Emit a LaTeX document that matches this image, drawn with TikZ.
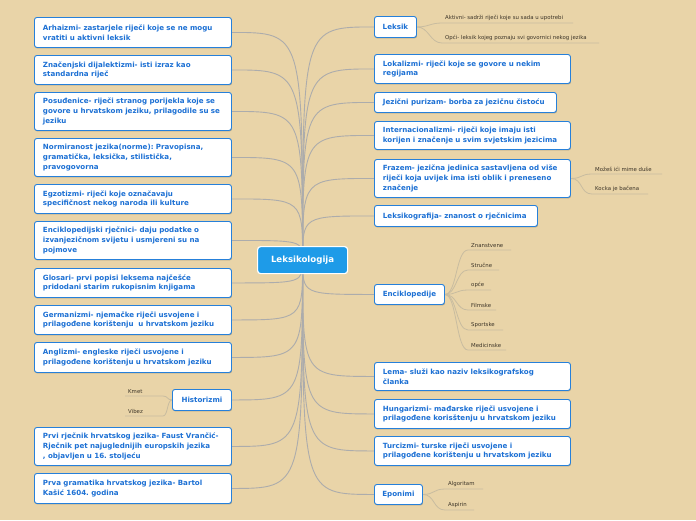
\documentclass[tikz,border=0pt]{standalone}
\usepackage{fontspec}
\setmainfont{DejaVu Sans}
\usetikzlibrary{calc,shadows}
\frenchspacing
\definecolor{bgc}{RGB}{233,212,168}
\definecolor{boxblue}{RGB}{38,128,218}
\definecolor{txtblue}{RGB}{28,112,212}
\definecolor{rootblue}{RGB}{30,155,232}
\definecolor{conngray}{RGB}{172,172,172}
\definecolor{subline}{RGB}{200,188,160}
\definecolor{subtxt}{RGB}{60,52,40}
\pgfdeclarelayer{bgfill}
\pgfdeclarelayer{lines}
\pgfsetlayers{bgfill,lines,main}
\tikzset{
  box/.style={draw=boxblue, line width=0.9pt, fill=white, rounded corners=2.5pt,
    text=txtblue, font=\fontsize{7.1}{9.9}\selectfont\bfseries\frenchspacing, align=left,
    inner xsep=8.5pt, inner ysep=2pt, anchor=north west,
    drop shadow={shadow xshift=0.5pt, shadow yshift=-1pt, opacity=0.35, fill=black!70}},
  wbox/.style={box, text width=#1},
  sbox/.style={box, align=center, inner xsep=2pt},
  rootbox/.style={draw=white, line width=1.2pt, fill=rootblue, rounded corners=3pt,
    text=white, font=\fontsize{8.6}{10}\selectfont\bfseries, anchor=north west,
    minimum width=90pt, minimum height=27pt, inner sep=0pt},
  conn/.style={draw=conngray, line width=0.9pt},
  subl/.style={draw=subline, line width=0.8pt},
  item/.style={font=\fontsize{5.4}{6}\selectfont, text=subtxt, inner xsep=3pt,
    inner ysep=2pt, anchor=south west},
}
\begin{document}
\begin{tikzpicture}[x=1pt,y=-1pt]
\begin{pgfonlayer}{bgfill}
\fill[bgc] (0,0) rectangle (696,520);
\end{pgfonlayer}
\useasboundingbox (0,0) rectangle (696,520);

\node[rootbox] (root) at (257,246) {Leksikologija};

% left column
\node[wbox=180pt, minimum height=30pt] (a1) at (34,17) {Arhaizmi- zastarjele riječi koje se ne mogu\\vratiti u aktivni leksik};
\node[wbox=180pt, minimum height=29pt] (a2) at (34,55) {Značenjski dijalektizmi- isti izraz kao\\standardna riječ};
\node[wbox=180pt, minimum height=38pt] (a3) at (34,92) {Posuđenice- riječi stranog porijekla koje se\\govore u hrvatskom jeziku, prilagodile su se\\jeziku};
\node[wbox=180pt, minimum height=38pt] (a4) at (34,138) {Normiranost jezika(norme): Pravopisna,\\gramatička, leksička, stilistička,\\pravogovorna};
\node[wbox=180pt, minimum height=29pt] (a5) at (34,184) {Egzotizmi- riječi koje označavaju\\specifičnost nekog naroda ili kulture};
\node[wbox=180pt, minimum height=38pt] (a6) at (34,221) {Enciklopedijski rječnici- daju podatke o\\izvanjezičnom svijetu i usmjereni su na\\pojmove};
\node[wbox=180pt, minimum height=29pt] (a7) at (34,268) {Glosari- prvi popisi leksema najčešće\\pridodani starim rukopisnim knjigama};
\node[wbox=180pt, minimum height=29pt] (a8) at (34,305) {Germanizmi- njemačke riječi usvojene i\\prilagođene korištenju ~u hrvatskom jeziku};
\node[wbox=180pt, minimum height=30pt] (a9) at (34,342) {Anglizmi- engleske riječi usvojene i\\prilagođene korištenju u hrvatskom jeziku};
\node[sbox, minimum width=59pt, minimum height=21pt] (hist) at (172,389) {Historizmi};
\node[wbox=180pt, minimum height=38pt] (a10) at (34,427) {Prvi rječnik hrvatskog jezika- Faust Vrančić-\\Rječnik pet najuglednijih europskih jezika\\, objavljen u 16. stoljeću};
\node[wbox=180pt, minimum height=30pt] (a11) at (34,473) {Prva gramatika hrvatskog jezika- Bartol\\Kašić 1604. godina};

% right column
\node[sbox, minimum width=42pt, minimum height=21pt] (leksik) at (374,16) {Leksik};
\node[wbox=179pt, minimum height=29pt] (lok) at (374,54) {Lokalizmi- riječi koje se govore u nekim\\regijama};
\node[wbox=165pt, minimum height=20pt] (pur) at (374,92) {Jezični purizam- borba za jezičnu čistoću};
\node[wbox=179pt, minimum height=28pt] (int) at (374,121) {Internacionalizmi- riječi koje imaju isti\\korijen i značenje u svim svjetskim jezicima};
\node[wbox=179pt, minimum height=38pt] (fraz) at (374,159) {Frazem- jezična jedinica sastavljena od više\\riječi koja uvijek ima isti oblik i preneseno\\značenje};
\node[wbox=146pt, minimum height=21pt] (lgr) at (374,205) {Leksikografija- znanost o rječnicima};
\node[sbox, minimum width=70pt, minimum height=20pt] (enc) at (374,284) {Enciklopedije};
\node[wbox=179pt, minimum height=28pt] (lema) at (374,362) {Lema- služi kao naziv leksikografskog\\članka};
\node[wbox=179pt, minimum height=29pt] (hung) at (374,399) {Hungarizmi- mađarske riječi usvojene i\\prilagođene korisštenju u hrvatskom jeziku};
\node[wbox=179pt, minimum height=29pt] (turc) at (374,436) {Turcizmi- turske riječi usvojene i\\prilagođene korištenju u hrvatskom jeziku};
\node[sbox, minimum width=48pt, minimum height=20pt] (epon) at (374,484) {Eponimi};

% sub items
\node[item] (l1) at (442,23) {Aktivni- sadrži riječi koje su sada u upotrebi};
\node[item] (l2) at (442,43) {Opći- leksik kojeg poznaju svi govornici nekog jezika};
\node[item] (f1) at (592,174) {Možeš ići mime duše};
\node[item] (f2) at (592,194) {Kocka je bačena};
\node[item] (e1) at (468,250) {Znanstvene};
\node[item] (e2) at (468,270) {Stručne};
\node[item] (e3) at (468,290) {opće};
\node[item] (e4) at (468,310) {Filmske};
\node[item] (e5) at (468,330) {Sportske};
\node[item] (e6) at (468,350) {Medicinske};
\node[item] (p1) at (445,489) {Algoritam};
\node[item] (p2) at (445,510) {Aspirin};
\node[item] (k1) at (125,396) {Kmet};
\node[item] (k2) at (125,416) {Vibez};

\begin{pgfonlayer}{lines}
\foreach \n in {a1,a2,a3,a4,a5,a6,a7,a8,a9,hist,a10,a11}
  \draw[conn] (root.center) .. controls (root.center |- \n.east) .. (\n.east);
\foreach \n in {leksik,lok,pur,int,fraz,lgr,enc,lema,hung,turc,epon}
  \draw[conn] (root.center) .. controls (root.center |- \n.west) .. (\n.west);
\foreach \p/\s/\L in {leksik/l1/131,leksik/l2/157,fraz/f1/70,fraz/f2/56,enc/e1/43,enc/e2/31,enc/e3/23,enc/e4/28,enc/e5/35,enc/e6/38,epon/p1/38,epon/p2/29}
  \draw[subl] (\p.east) .. controls ($(\p.east)+(12,0)$) and ($(\s.south west)+(-12,0)$) .. (\s.south west) -- ++(\L,0);
\foreach \s in {k1,k2}
  \draw[subl] (hist.west) .. controls ($(hist.west)+(-5,0)$) and ($(\s.south west)+(43,0)$) .. ($(\s.south west)+(38,0)$) -- (\s.south west);
\end{pgfonlayer}
\end{tikzpicture}
\end{document}
